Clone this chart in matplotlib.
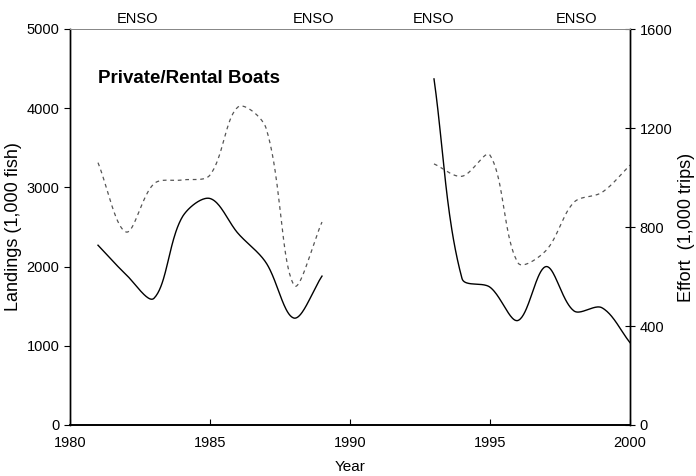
import numpy as np
import matplotlib.pyplot as plt

plt.rcParams['font.family'] = ['Liberation Sans', 'DejaVu Sans']

# landings (1,000 fish), left axis
years_a = [1981, 1982, 1983, 1984, 1985, 1986, 1987, 1988, 1989]
landings_a = [2270, 1900, 1600, 2620, 2860, 2420, 2050, 1350, 1880]
years_b = [1993, 1994, 1995, 1996, 1997, 1998, 1999, 2000]
landings_b = [4370, 1850, 1740, 1320, 2000, 1440, 1480, 1040]

# effort (1,000 trips), right axis
effort_a = [1060, 780, 975, 990, 1010, 1285, 1200, 565, 820]
effort_b = [1055, 1005, 1090, 655, 705, 900, 940, 1050]

enso_x = [1982.4, 1988.7, 1993.0, 1998.1]


def smooth(ax, x, y, n=40):
    # Excel-like smoothed line: bezier in screen space, control arms
    # scaled by neighbouring segment lengths
    p = ax.transData.transform(np.column_stack([x, y]))
    m = len(p)
    xs = []
    for i in range(m - 1):
        a, b = p[i], p[i + 1]
        pa = p[i - 1] if i > 0 else a
        pb = p[i + 2] if i + 2 < m else b
        l0, l1, l2 = np.linalg.norm(a - pa), np.linalg.norm(b - a), np.linalg.norm(pb - b)
        c1 = a + (b - pa) * (l1 / (l0 + l1)) / 3 if l0 + l1 > 0 else a
        c2 = b - (pb - a) * (l1 / (l1 + l2)) / 3 if l1 + l2 > 0 else b
        t = np.linspace(0, 1, n)[:, None]
        seg = ((1 - t) ** 3 * a + 3 * (1 - t) ** 2 * t * c1
               + 3 * (1 - t) * t ** 2 * c2 + t ** 3 * b)
        xs.append(seg)
    pts = ax.transData.inverted().transform(np.vstack(xs))
    return pts[:, 0], pts[:, 1]


fig = plt.figure(figsize=(6.96, 4.76), dpi=100)
ax1 = fig.add_axes([70 / 696, 51 / 476, 560 / 696, 396 / 476])
ax2 = ax1.twinx()

ax1.set_xlim(1980, 2000)
ax1.set_ylim(0, 5000)
ax2.set_ylim(0, 1600)

for yr, vals in ((years_a, landings_a), (years_b, landings_b)):
    sx, sy = smooth(ax1, yr, vals)
    ax1.plot(sx, sy, color='black', lw=1.0)
for yr, vals in ((years_a, effort_a), (years_b, effort_b)):
    sx, sy = smooth(ax2, yr, vals)
    ax2.plot(sx, sy, color='#555555', lw=0.9, linestyle=(0, (3, 3)))

ax1.set_xlim(1980, 2000)
ax1.set_ylim(0, 5000)
ax2.set_ylim(0, 1600)
ax1.set_xticks([1980, 1985, 1990, 1995, 2000])
ax1.set_yticks(range(0, 5001, 1000))
ax2.set_yticks(range(0, 1601, 400))

ax1.tick_params(axis='x', direction='in', length=4, labelsize=10.5, pad=8)
ax1.tick_params(axis='y', direction='out', length=4, labelsize=10.5)
ax2.tick_params(axis='y', direction='inout', length=7, labelsize=10.5)

for a in (ax1, ax2):
    a.spines['top'].set_color('#888888')
    a.spines['top'].set_linewidth(0.7)
    a.spines['left'].set_linewidth(1.0)
    a.spines['right'].set_linewidth(1.0)
    a.spines['bottom'].set_linewidth(1.2)

ax1.set_xlabel('Year', fontsize=11)
ax1.set_ylabel('Landings (1,000 fish)', fontsize=13)
ax2.set_ylabel('Effort  (1,000 trips)', fontsize=13)
ax1.xaxis.set_label_coords(0.5, -0.088)
ax1.yaxis.set_label_coords(-0.085, 0.5)
ax2.yaxis.set_label_coords(1.086, 0.5)

for ex in enso_x:
    ax1.text(ex, 5035, 'ENSO', ha='center', va='bottom', fontsize=10.5)

ax1.text(1981, 4380, 'Private/Rental Boats', fontsize=13.5, fontweight='bold',
         ha='left', va='center')

plt.savefig('out.png', dpi=100)
